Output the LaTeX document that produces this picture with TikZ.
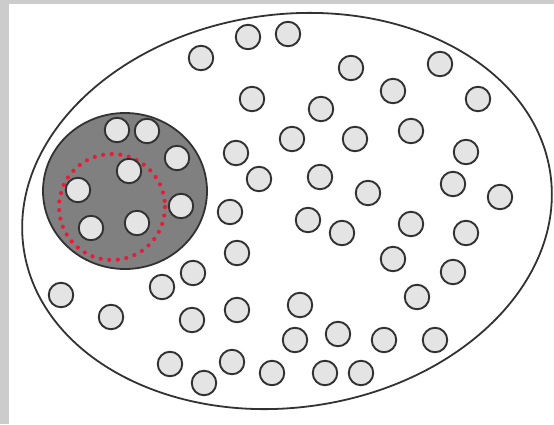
\documentclass[tikz,border=0pt]{standalone}
\definecolor{edgegray}{RGB}{50,50,50}
\definecolor{ballfill}{RGB}{228,228,228}
\definecolor{darkfill}{RGB}{128,128,128}
\definecolor{framegray}{RGB}{204,204,204}
\definecolor{dotred}{RGB}{232,28,58}
\begin{document}
\begin{tikzpicture}[x=1pt,y=-1pt,
  ball/.style={circle,draw=edgegray,fill=ballfill,line width=1.9pt,minimum size=24.5pt,inner sep=0pt},
  outline/.style={draw=edgegray,line width=1.8pt},
  reddots/.style={draw=dotred,line width=4.2pt,line cap=round,dash pattern=on 0pt off 8.6pt}]
\useasboundingbox (0,0) rectangle (554,424);
\fill[framegray] (0,0) rectangle (9,424);
\fill[framegray] (0,0) rectangle (554,4);
% outer region
\coordinate (oc) at (287,211);
\draw[outline,rotate around={8:(oc)}] (oc) ellipse [x radius=266, y radius=196.5];
% outer particles
\foreach \x/\y [count=\i] in {201/58,248/37,288/34,351/68,440/64,
  252/99,321/109,393/91,478/99,
  292/139,355/139,411/131,236/153,466/152,
  320/177,259/179,368/193,453/184,500/197,
  230/212,308/220,342/233,411/224,466/233,
  237/253,393/259,453/272,193/273,162/287,
  417/297,61/295,300/305,111/317,192/320,237/310,
  338/334,295/340,384/340,435/340,
  170/364,232/362,204/383,272/373,325/373,361/373}
  \node[ball] (b\i) at (\x,\y) {};
% dark cluster
\coordinate (dc) at (125,191);
\draw[outline,fill=darkfill] (dc) ellipse [x radius=82, y radius=78];
% red dotted boundary
\coordinate (rc) at (112,207);
\draw[reddots] (rc) circle [radius=53];
% inner particles
\foreach \x/\y [count=\i] in {117/130,147/131,177/158,129/171,78/190,181/206,91/228,137/223}
  \node[ball] (c\i) at (\x,\y) {};
\end{tikzpicture}
\end{document}
